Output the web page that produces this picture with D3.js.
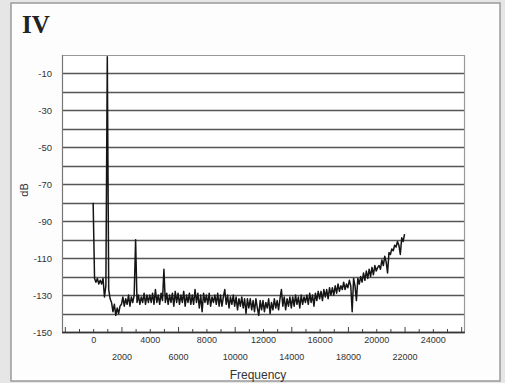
<!DOCTYPE html>
<html>
<head>
<meta charset="utf-8">
<script src="https://cdn.jsdelivr.net/npm/d3@7/dist/d3.min.js"></script>
<style>
  body { margin: 0; background: #e6e6e6; }
  svg { display: block; }
</style>
</head>
<body>
<svg id="chart" width="505" height="383"></svg>
<script>
// ---------- data ----------
const panelTitle = "IV";
const yAxisTitle = "dB";
const xAxisTitle = "Frequency";
const yLabelValues = [-10, -30, -50, -70, -90, -110, -130, -150];
const xLabelsTopRow = [0, 4000, 8000, 12000, 16000, 20000, 24000];
const xLabelsBottomRow = [2000, 6000, 10000, 14000, 18000, 22000];
// spectrum: one value (dB) per frequency bin, bins every 100 Hz starting at 0 Hz
const binStepHz = 100;
const spectrumDb = [
  -80, -121, -123, -121, -124, -122, -124, -121, -131, -125,   // 0-900
  -1, -127, -132, -134, -139, -135, -141, -137, -140, -136,    // 1000
  -135, -131, -136, -132, -135, -130, -136, -131, -134, -130,  // 2000
  -100, -134, -130, -135, -131, -134, -129, -135, -130, -134,  // 3000
  -130, -134, -129, -135, -127, -134, -130, -135, -129, -133,  // 4000
  -116, -134, -129, -135, -130, -134, -129, -136, -128, -134,  // 5000
  -129, -135, -130, -134, -128, -136, -130, -134, -129, -135,  // 6000
  -130, -135, -127, -134, -129, -137, -130, -139, -129, -134,  // 7000
  -130, -135, -129, -136, -131, -134, -130, -135, -129, -136,  // 8000
  -130, -136, -131, -127, -135, -130, -137, -131, -135, -130,  // 9000
  -136, -131, -138, -132, -136, -131, -137, -132, -140, -132,  // 10000
  -137, -132, -138, -133, -139, -132, -137, -141, -133, -138,  // 11000
  -133, -139, -134, -137, -132, -140, -134, -138, -132, -137,  // 12000
  -133, -138, -132, -127, -136, -131, -138, -132, -136, -131,  // 13000
  -137, -131, -136, -130, -135, -131, -137, -130, -135, -131,  // 14000
  -134, -130, -135, -129, -134, -130, -136, -129, -133, -128,  // 15000
  -132, -128, -133, -127, -131, -127, -132, -126, -130, -126,  // 16000
  -130, -125, -129, -124, -128, -125, -127, -123, -127, -124,  // 17000
  -126, -122, -125, -139, -121, -125, -133, -121, -124, -120,  // 18000
  -123, -118, -122, -117, -121, -116, -120, -115, -119, -114,  // 19000
  -117, -115, -114, -116, -111, -114, -109, -112, -118, -107,  // 20000
  -108, -105, -106, -103, -104, -101, -103, -108, -99, -101,   // 21000
  -97                                                          // 22000
];

// ---------- layout ----------
const FONT = "'Liberation Sans', Arial, sans-serif";
const svg = d3.select("#chart");
const W = 505, H = 383;
const plot = { left: 62, top: 55, right: 464, bottom: 332 };

svg.append("rect").attr("x", 0).attr("y", 0).attr("width", W).attr("height", H).attr("fill", "#e6e6e6");
svg.append("rect").attr("x", 11).attr("y", 3).attr("width", 489).attr("height", 378)
  .attr("fill", "#fdfdfd").attr("stroke", "#9a9a9a").attr("stroke-width", 1.5);

const x = d3.scaleLinear().domain([-2200, 26200]).range([plot.left, plot.right]);
const y = d3.scaleLinear().domain([-150, 0]).range([plot.bottom, plot.top]);

// plot background
svg.append("rect").attr("x", plot.left).attr("y", plot.top)
  .attr("width", plot.right - plot.left).attr("height", plot.bottom - plot.top)
  .attr("fill", "#ffffff");

// horizontal gridlines every 10 dB
const grid = svg.append("g");
grid.selectAll("line").data(y.ticks(15)).join("line")
  .attr("x1", plot.left).attr("x2", plot.right)
  .attr("y1", d => Math.round(y(d)) + 0.5).attr("y2", d => Math.round(y(d)) + 0.5)
  .attr("stroke", d => d === 0 ? "#999" : "#555")
  .attr("stroke-width", d => d === 0 ? 1 : 1.4);

// side borders
svg.append("line").attr("x1", plot.left + 0.5).attr("x2", plot.left + 0.5)
  .attr("y1", plot.top).attr("y2", plot.bottom).attr("stroke", "#777").attr("stroke-width", 1.2);
svg.append("line").attr("x1", plot.right + 0.5).attr("x2", plot.right + 0.5)
  .attr("y1", plot.top).attr("y2", plot.bottom).attr("stroke", "#999").attr("stroke-width", 1.2);

// spectrum line
const line = d3.line()
  .x((d, i) => x(i * binStepHz))
  .y(d => y(d));
svg.append("path").datum(spectrumDb)
  .attr("d", line)
  .attr("fill", "none")
  .attr("stroke", "#151515")
  .attr("stroke-width", 1.5)
  .attr("stroke-linejoin", "round");

// y axis labels
const yAxis = d3.axisLeft(y).tickValues(yLabelValues).tickSize(0).tickPadding(10)
  .tickFormat(d => String(d));
const gy = svg.append("g").attr("transform", `translate(${plot.left},0)`).call(yAxis);
gy.select(".domain").remove();
gy.selectAll("text").style("font-size", "9.5px").style("fill", "#333").style("font-family", FONT);

// x axis: minor ticks (inward) + two rows of labels
const minorTicks = d3.range(-2000, 26001, 1000);
const gxTicks = svg.append("g").attr("transform", `translate(0,${plot.bottom})`)
  .call(d3.axisBottom(x).tickValues(minorTicks).tickSize(-3).tickFormat(""));
gxTicks.select(".domain").remove();
gxTicks.selectAll(".tick line").attr("stroke", "#444")
  .attr("y2", d => ((d - 2000) % 4000 === 0) ? -5 : -3);

const gxTop = svg.append("g").attr("transform", `translate(0,${plot.bottom})`)
  .call(d3.axisBottom(x).tickValues(xLabelsTopRow).tickSize(0).tickPadding(5).tickFormat(d => String(d)));
gxTop.select(".domain").remove();
gxTop.selectAll("text").style("font-size", "9px").style("fill", "#333").style("font-family", FONT);

const gxBot = svg.append("g").attr("transform", `translate(0,${plot.bottom})`)
  .call(d3.axisBottom(x).tickValues(xLabelsBottomRow).tickSize(0).tickPadding(22).tickFormat(d => String(d)));
gxBot.select(".domain").remove();
gxBot.selectAll("text").style("font-size", "9px").style("fill", "#333").style("font-family", FONT);

// bottom axis line
svg.append("line").attr("x1", plot.left).attr("x2", plot.right + 1)
  .attr("y1", plot.bottom + 0.5).attr("y2", plot.bottom + 0.5)
  .attr("stroke", "#333").attr("stroke-width", 1.4);

// titles
svg.append("text").attr("x", 22).attr("y", 33)
  .style("font-family", "'Liberation Serif', 'DejaVu Serif', serif")
  .style("font-weight", "bold").style("font-size", "25px").style("fill", "#222")
  .text(panelTitle);

svg.append("text")
  .attr("transform", "translate(28,190) rotate(-90)")
  .attr("text-anchor", "middle")
  .style("font-family", FONT).style("font-size", "11px").style("fill", "#333")
  .text(yAxisTitle);

svg.append("text").attr("x", 258).attr("y", 379)
  .attr("text-anchor", "middle")
  .style("font-family", FONT).style("font-size", "12px").style("fill", "#333")
  .text(xAxisTitle);
</script>
</body>
</html>
